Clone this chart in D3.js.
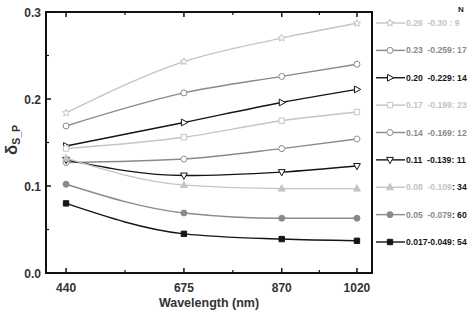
<!DOCTYPE html>
<html>
<head>
<meta charset="utf-8">
<script src="https://cdn.jsdelivr.net/npm/d3@7"></script>
<style>
  body { margin: 0; background: #fff; }
  text { font-family: "Liberation Sans", Arial, sans-serif; font-weight: bold; }
</style>
</head>
<body>
<svg id="chart" width="470" height="312"></svg>
<script>
// wavelengths (nm)
var wavelengths = [440, 675, 870, 1020];
var majorTicks = [440, 675, 870, 1020];
var minorTicks = [557.5, 772.5, 945];
var yTicks = [0, 0.1, 0.2, 0.3];
var yMinor = [0.05, 0.15, 0.25];

// one series per class of the range, top to bottom
var s1 = [0.184, 0.243, 0.270, 0.287];
var s2 = [0.169, 0.207, 0.226, 0.240];
var s3 = [0.146, 0.173, 0.196, 0.211];
var s4 = [0.143, 0.156, 0.175, 0.185];
var s5 = [0.127, 0.131, 0.143, 0.154];
var s6 = [0.130, 0.112, 0.116, 0.123];
var s7 = [0.132, 0.101, 0.097, 0.097];
var s8 = [0.102, 0.069, 0.063, 0.063];
var s9 = [0.080, 0.045, 0.039, 0.037];

var rangeLabels = ["0.26  -0.30 ", "0.23  -0.259", "0.20  -0.229", "0.17  -0.199", "0.14  -0.169",
  "0.11  -0.139", "0.08  -0.109", "0.05  -0.079", "0.017-0.049"];
var counts = [": 9", ": 17", ": 14", ": 23", ": 12", ": 11", ": 34", ": 60", ": 54"];

var LIGHT = "#c4c4c4", GRAY = "#8a8a8a", DARK = "#151515";
var styles = [
  { color: LIGHT, shape: "star", fill: false, countColor: LIGHT },
  { color: GRAY, shape: "circle", fill: false, countColor: GRAY },
  { color: DARK, shape: "right", fill: false, countColor: DARK },
  { color: LIGHT, shape: "square", fill: false, countColor: LIGHT },
  { color: GRAY, shape: "hex", fill: false, countColor: GRAY },
  { color: DARK, shape: "down", fill: false, countColor: DARK },
  { color: LIGHT, shape: "up", fill: true, countColor: DARK },
  { color: GRAY, shape: "circle", fill: true, countColor: DARK },
  { color: DARK, shape: "square", fill: true, countColor: DARK }
];
var allSeries = [s1, s2, s3, s4, s5, s6, s7, s8, s9];

var svg = d3.select("#chart");
var plotL = 46, plotR = 372, plotT = 12, plotB = 273;

var x = d3.scaleLinear().domain([400, 1050]).range([plotL, plotR]);
var y = d3.scaleLinear().domain([0, 0.3]).range([plotB, plotT]);

function markerPath(shape, cx, cy) {
  var r = 3;
  if (shape == "circle") {
    return "M" + (cx - r) + "," + cy + "a" + r + "," + r + " 0 1,0 " + 2 * r + ",0a" + r + "," + r + " 0 1,0 " + (-2 * r) + ",0Z";
  }
  if (shape == "square") {
    var h = 2.7;
    return "M" + (cx - h) + "," + (cy - h) + "h" + 2 * h + "v" + 2 * h + "h" + (-2 * h) + "Z";
  }
  var pts = [];
  if (shape == "up") pts = [[0, -3.8], [3.4, 2.5], [-3.4, 2.5]];
  if (shape == "down") pts = [[0, 3.8], [3.4, -2.5], [-3.4, -2.5]];
  if (shape == "right") pts = [[3.8, 0], [-2.5, -3.4], [-2.5, 3.4]];
  if (shape == "hex") {
    for (var k = 0; k < 6; k++) pts.push([3.2 * Math.cos(Math.PI / 3 * k), 3.2 * Math.sin(Math.PI / 3 * k)]);
  }
  if (shape == "star") {
    for (var k = 0; k < 10; k++) {
      var rr = k % 2 == 0 ? 3.8 : 1.7;
      var a = -Math.PI / 2 + Math.PI / 5 * k;
      pts.push([rr * Math.cos(a), rr * Math.sin(a)]);
    }
  }
  return "M" + pts.map(function(p) { return (cx + p[0]) + "," + (cy + p[1]); }).join("L") + "Z";
}

// frame
svg.append("rect")
  .attr("x", plotL).attr("y", plotT)
  .attr("width", plotR - plotL).attr("height", plotB - plotT)
  .attr("fill", "none").attr("stroke", "#111").attr("stroke-width", 2);

// ticks (inside)
majorTicks.forEach(function(t) {
  svg.append("line").attr("x1", x(t)).attr("x2", x(t)).attr("y1", plotB).attr("y2", plotB - 5).attr("stroke", "#111").attr("stroke-width", 1.5);
  svg.append("line").attr("x1", x(t)).attr("x2", x(t)).attr("y1", plotT).attr("y2", plotT + 5).attr("stroke", "#111").attr("stroke-width", 1.5);
  svg.append("text").attr("x", x(t)).attr("y", 292).attr("text-anchor", "middle")
    .attr("font-size", 12).attr("fill", "#333").text(t);
});
minorTicks.forEach(function(t) {
  svg.append("line").attr("x1", x(t)).attr("x2", x(t)).attr("y1", plotB).attr("y2", plotB - 3).attr("stroke", "#111").attr("stroke-width", 1.2);
  svg.append("line").attr("x1", x(t)).attr("x2", x(t)).attr("y1", plotT).attr("y2", plotT + 3).attr("stroke", "#111").attr("stroke-width", 1.2);
});
yTicks.forEach(function(t) {
  svg.append("line").attr("x1", plotL).attr("x2", plotL + 5).attr("y1", y(t)).attr("y2", y(t)).attr("stroke", "#111").attr("stroke-width", 1.5);
  svg.append("text").attr("x", 41).attr("y", y(t) + 4.5).attr("text-anchor", "end")
    .attr("font-size", 12).attr("fill", "#333").text(d3.format(".1f")(t));
});
yMinor.forEach(function(t) {
  svg.append("line").attr("x1", plotL).attr("x2", plotL + 3).attr("y1", y(t)).attr("y2", y(t)).attr("stroke", "#111").attr("stroke-width", 1.2);
});

// axis titles
svg.append("text").attr("x", 209).attr("y", 307).attr("text-anchor", "middle")
  .attr("font-size", 12.5).attr("fill", "#333").text("Wavelength (nm)");

var yl = svg.append("text").attr("transform", "translate(17,140) rotate(-90)")
  .attr("text-anchor", "middle").attr("fill", "#333");
yl.append("tspan").attr("font-size", 17).text("δ");
yl.append("tspan").attr("font-size", 10.5).attr("dy", 3).text("S_P");

// lines and markers
var line = d3.line()
  .x(function(d, i) { return x(wavelengths[i]); })
  .y(function(d) { return y(d); })
  .curve(d3.curveMonotoneX);

allSeries.forEach(function(s, j) {
  var st = styles[j];
  svg.append("path").attr("d", line(s)).attr("fill", "none")
    .attr("stroke", st.color).attr("stroke-width", 1.4);
  s.forEach(function(v, i) {
    svg.append("path").attr("d", markerPath(st.shape, x(wavelengths[i]), y(v)))
      .attr("fill", st.fill ? st.color : "#fff")
      .attr("stroke", st.color).attr("stroke-width", 1);
  });
});

// legend
svg.append("text").attr("x", 461).attr("y", 12).attr("text-anchor", "middle")
  .attr("font-size", 8).attr("fill", "#222").text("N");

var legY = d3.scaleLinear().domain([0, 8]).range([23, 242]);
rangeLabels.forEach(function(lbl, j) {
  var st = styles[j];
  var ly = legY(j);
  svg.append("line").attr("x1", 376).attr("x2", 405).attr("y1", ly).attr("y2", ly)
    .attr("stroke", st.color).attr("stroke-width", 1.4);
  svg.append("path").attr("d", markerPath(st.shape, 390, ly))
    .attr("fill", st.fill ? st.color : "#fff")
    .attr("stroke", st.color).attr("stroke-width", 1);
  var t = svg.append("text").attr("x", 406).attr("y", ly + 3).attr("font-size", 8.6)
    .attr("xml:space", "preserve").style("white-space", "pre");
  t.append("tspan").attr("fill", st.color).text(lbl);
  t.append("tspan").attr("fill", st.countColor).text(counts[j]);
});
</script>
</body>
</html>
